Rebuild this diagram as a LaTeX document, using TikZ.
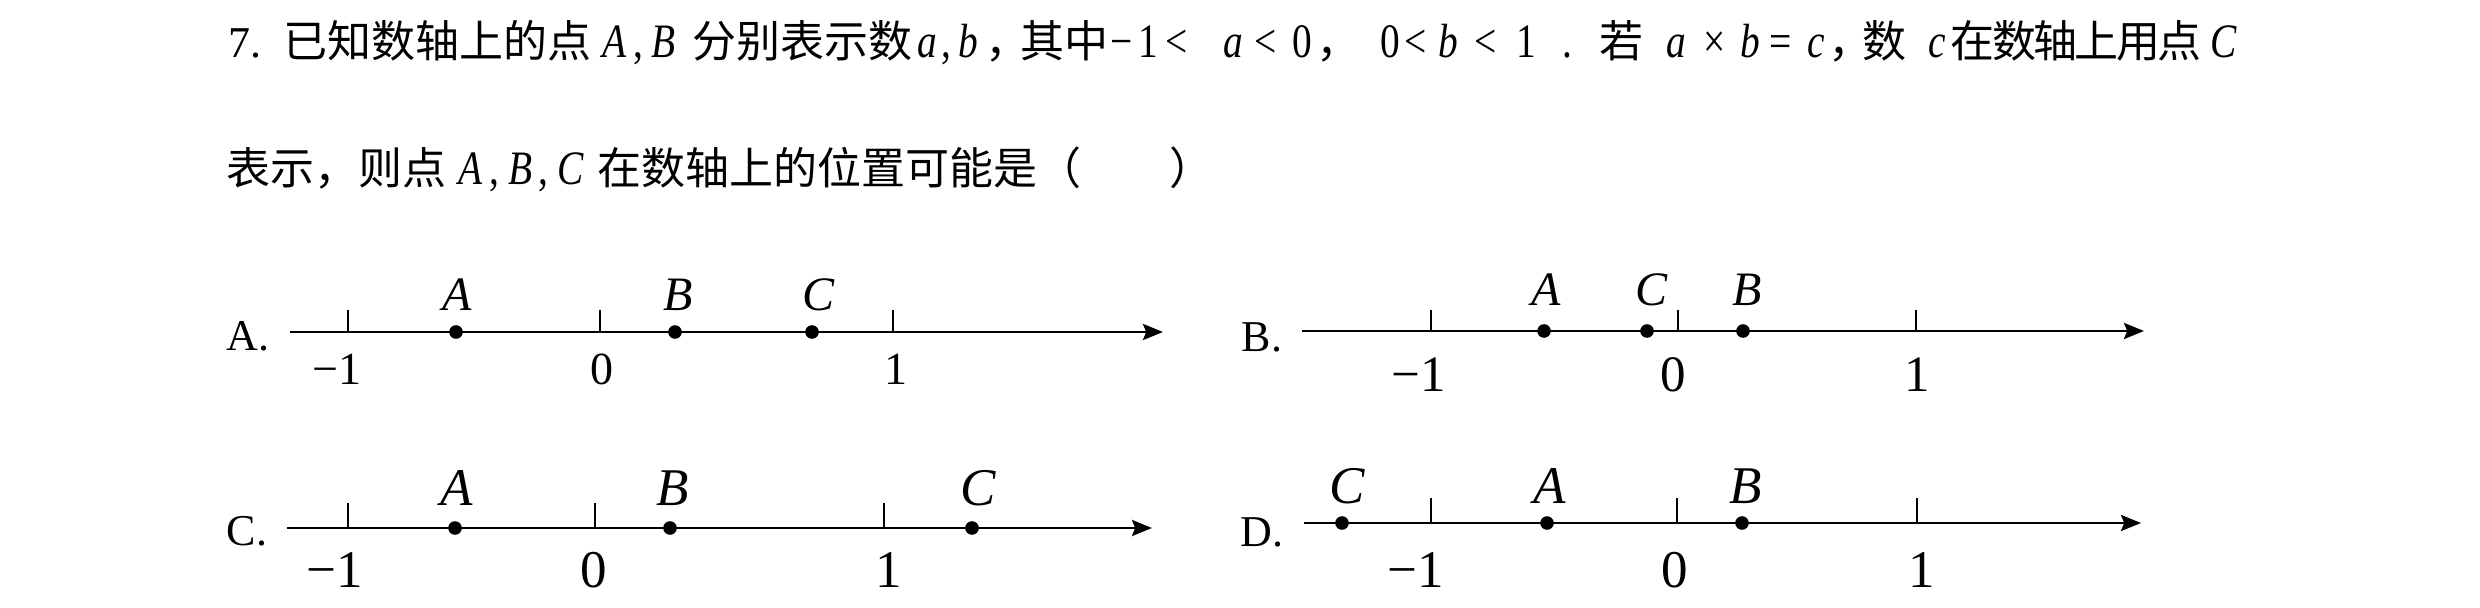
\documentclass[tikz,border=0pt]{standalone}
\usepackage{fontspec}
\setmainfont{Liberation Serif}
\newfontfamily\cond[FakeStretch=0.82]{Liberation Serif}
\newfontfamily\cjk{Noto Sans CJK SC}
\newfontfamily\cjkt[LetterSpace=-6]{Noto Sans CJK SC}
\usetikzlibrary{arrows.meta}
\newdimen\pxu \pxu=0.25pt
\newcommand{\gl}[2]{\rlap{\hspace*{#1\pxu}#2}}
\newcommand{\gc}[2]{\rlap{\hspace*{#1\pxu}\makebox[0pt]{#2}}}
\newcommand{\mi}[1]{{\fontsize{12}{14}\cond\itshape #1}}
\newcommand{\mup}[1]{{\fontsize{12}{14}\cond #1}}
\begin{document}
\begin{tikzpicture}[x=0.25pt,y=-0.25pt,
  txt/.style={inner sep=0pt,anchor=base west,font=\fontsize{11}{13}\selectfont},
  opt/.style={inner sep=0pt,anchor=base west,font=\fontsize{11}{13}\selectfont},
  axisline/.style={line width=0.7pt,-{Stealth[length=5pt,width=4pt,inset=0.8pt]}},
  tickline/.style={line width=0.5pt},
  dot/.style={circle,fill=black,inner sep=0pt,minimum size=3.4pt},
  lab/.style={inner sep=0pt,anchor=base},
  num/.style={inner sep=0pt,anchor=base}]
\useasboundingbox (0,0) rectangle (2480,608);
% question text, line 1 (glyph positions in px from the left edge)
\node[txt] (q1) at (0,58) {%
\gl{226}{7.}%
\gl{281}{\cjk 已知数轴上的点}%
\gc{612}{\mi{A}}\gc{636}{\mup{,}}\gc{661}{\mi{B}}%
\gl{690}{\cjk 分别表示数}%
\gc{925}{\mi{a}}\gc{944}{\mup{,}}\gc{966}{\mi{b}}%
\gl{983}{\cjk ，}\gl{1018}{\cjk 其中}%
\gc{1119}{\mup{−}}\gc{1146}{\mup{1}}\gc{1174}{\mup{<}}\gc{1231}{\mi{a}}\gc{1263}{\mup{<}}\gc{1300}{\mup{0}}%
\gl{1314}{\cjk ，}%
\gc{1388}{\mup{0}}\gc{1413}{\mup{<}}\gc{1446}{\mi{b}}\gc{1483}{\mup{<}}\gc{1524}{\mup{1}}%
\gc{1565}{\mup{.}}%
\gl{1597}{\cjk 若}%
\gc{1674}{\mi{a}}\gc{1712}{\mup{×}}\gc{1748}{\mi{b}}\gc{1778}{\mup{=}}\gc{1813}{\mi{c}}%
\gl{1826}{\cjk ，}\gl{1860}{\cjk 数}%
\gc{1934}{\mi{c}}%
\gl{1948}{\cjkt 在数轴上用点}%
\gc{2221}{\mi{C}}%
};
% line 2
\node[txt] (q2) at (0,185) {%
\gl{224}{\cjk 表示，则点}%
\gc{468}{\mi{A}}\gc{492}{\mup{,}}\gc{518}{\mi{B}}\gc{541}{\mup{,}}\gc{568}{\mi{C}}%
\gl{595}{\cjk 在数轴上的位置可能是（\quad\quad）}%
};

% ---------- A ----------
\node[opt] (oA) at (226,351) {A.};
\coordinate (sA) at (290,332);
\coordinate (eA) at (1163,332);
\draw[axisline] (sA) -- (eA);
\foreach \x/\n in {348/m,600/z,893/o}{
  \coordinate (tA\n) at (\x,332);
  \draw[tickline] (tA\n) -- ++(0,-22);}
\node[dot] (dAa) at (456,332) {};
\node[dot] (dAb) at (675,332) {};
\node[dot] (dAc) at (812,332) {};
\begin{scope}[every node/.append style={font=\fontsize{12}{14}\selectfont\itshape}]
\node[lab] (LAa) at (457,311) {A};
\node[lab] (LAb) at (678,311) {B};
\node[lab] (LAc) at (818,311) {C};
\end{scope}
\begin{scope}[every node/.append style={font=\fontsize{11.5}{14}\selectfont}]
\node[num] (NAm) at (350,384) {\llap{−}1};
\node[num] (NAz) at (602,384) {0};
\node[num] (NAo) at (896,384) {1};
\end{scope}

% ---------- B ----------
\node[opt] (oB) at (1241,352) {B.};
\coordinate (sB) at (1302,331);
\coordinate (eB) at (2144,331);
\draw[axisline] (sB) -- (eB);
\foreach \x/\n in {1431/m,1678/z,1916/o}{
  \coordinate (tB\n) at (\x,331);
  \draw[tickline] (tB\n) -- ++(0,-21);}
\node[dot] (dBa) at (1544,331) {};
\node[dot] (dBc) at (1647,331) {};
\node[dot] (dBb) at (1743,331) {};
\begin{scope}[every node/.append style={font=\fontsize{12}{14}\selectfont\itshape}]
\node[lab] (LBa) at (1546,306) {A};
\node[lab] (LBc) at (1651,306) {C};
\node[lab] (LBb) at (1747,306) {B};
\end{scope}
\begin{scope}[every node/.append style={font=\fontsize{12.75}{15}\selectfont}]
\node[num] (NBm) at (1433,392) {\llap{−}1};
\node[num] (NBz) at (1673,392) {0};
\node[num] (NBo) at (1917,392) {1};
\end{scope}

% ---------- C ----------
\node[opt] (oC) at (226,545) {C.};
\coordinate (sC) at (287,528);
\coordinate (eC) at (1152,528);
\draw[axisline] (sC) -- (eC);
\foreach \x/\n in {348/m,595/z,884/o}{
  \coordinate (tC\n) at (\x,528);
  \draw[tickline] (tC\n) -- ++(0,-25);}
\node[dot] (dCa) at (455,528) {};
\node[dot] (dCb) at (670,528) {};
\node[dot] (dCc) at (972,528) {};
\begin{scope}[every node/.append style={font=\fontsize{13.25}{16}\selectfont}]
\node[lab] (LCa) at (457,505) {\itshape A};
\node[lab] (LCb) at (673,505) {\itshape B};
\node[lab] (LCc) at (978,505) {\itshape C};
\node[num] (NCm) at (350,587) {\llap{−}1};
\node[num] (NCz) at (594,587) {0};
\node[num] (NCo) at (889,587) {1};
\end{scope}

% ---------- D ----------
\node[opt] (oD) at (1240,546) {D.};
\coordinate (sD) at (1304,523);
\coordinate (eD) at (2141,523);
\draw[axisline] (sD) -- (eD);
\foreach \x/\n in {1431/m,1677/z,1917/o}{
  \coordinate (tD\n) at (\x,523);
  \draw[tickline] (tD\n) -- ++(0,-25);}
\node[dot] (dDc) at (1342,523) {};
\node[dot] (dDa) at (1547,523) {};
\node[dot] (dDb) at (1742,523) {};
\begin{scope}[every node/.append style={font=\fontsize{13.25}{16}\selectfont}]
\node[lab] (LDc) at (1347,503) {\itshape C};
\node[lab] (LDa) at (1550,503) {\itshape A};
\node[lab] (LDb) at (1746,503) {\itshape B};
\node[num] (NDm) at (1431,587) {\llap{−}1};
\node[num] (NDz) at (1675,587) {0};
\node[num] (NDo) at (1922,587) {1};
\end{scope}
\end{tikzpicture}
\end{document}
